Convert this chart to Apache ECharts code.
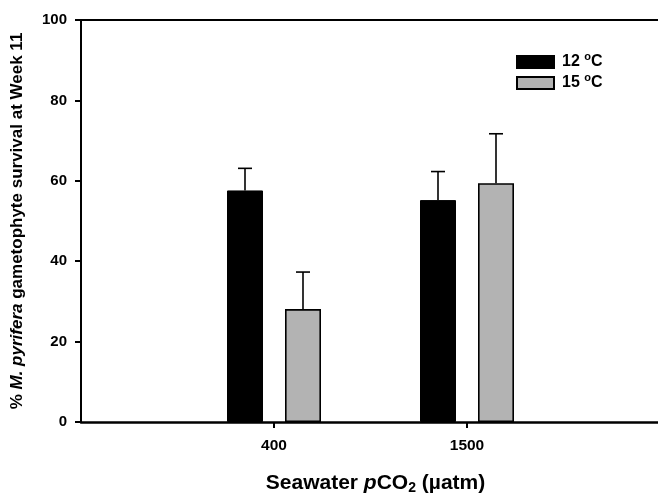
<!DOCTYPE html>
<html>
<head>
<meta charset="utf-8">
<script src="https://cdn.jsdelivr.net/npm/echarts@6/dist/echarts.min.js"></script>
<style>
  html,body{margin:0;padding:0;background:#fff;}
  #chart{width:658px;height:493px;}
</style>
</head>
<body>
<div id="chart"></div>
<script>
/* data */
const categories = ["400", "1500"];
const means12 = [57.6, 55.2];
const err12   = [5.5, 7.1];
const means15 = [28.1, 59.4];
const err15   = [9.2, 12.3];
const yTicks  = [0, 20, 40, 60, 80, 100];

const FONT = "Liberation Sans, Arial, sans-serif";
const BAR_W = 36, BAR_GAP = 22;
const OFF = (BAR_W + BAR_GAP) / 2;

// padded axis so the two groups sit where they sit in the original
const axisCats = ["", ...categories, ""];

const chart = echarts.init(document.getElementById("chart"), null, {renderer: "canvas"});

function errSeries(means, errs, dir){
	return {
		type: "custom",
		xAxisIndex: 0,
		z: 5,
		silent: true,
		data: means.map((v, i) => [i + 1, v, v + errs[i]]),
		renderItem(params, api){
			const base = api.coord([api.value(0), api.value(1)]);
			const top = api.coord([api.value(0), api.value(2)]);
			const x = base[0] + dir * OFF;
			return {
				type: "group",
				children: [
					{type: "line", shape: {x1: x, y1: base[1], x2: x, y2: top[1]}, style: {stroke: "#000", lineWidth: 1.6}},
					{type: "line", shape: {x1: x - 7, y1: top[1], x2: x + 7, y2: top[1]}, style: {stroke: "#000", lineWidth: 1.6}}
				]
			};
		}
	};
}

const option = {
	animation: false,
	backgroundColor: "#fff",
	textStyle: {fontFamily: FONT},
	grid: {left: 81, right: -2, top: 20, bottom: 71, outerBoundsMode: "none", containLabel: false},
	legend: {
		orient: "vertical",
		left: 511,
		top: 46,
		itemWidth: 37,
		itemHeight: 12,
		itemGap: 2,
		icon: "rect",
		data: ["12 °C", "15 °C"],
		formatter: n => `{t|${n.split(" ")[0]} }{s|o}{t|C}`,
		textStyle: {
			fontFamily: FONT,
			padding: [0, 0, 0, 3],
			rich: {
				t: {fontSize: 16, fontWeight: "bold", color: "#000", fontFamily: FONT, lineHeight: 22},
				s: {fontSize: 11, fontWeight: "bold", color: "#000", fontFamily: FONT, verticalAlign: "top", lineHeight: 10}
			}
		}
	},
	xAxis: [{
		type: "category",
		data: axisCats,
		boundaryGap: false,
		axisLine: {lineStyle: {color: "#000", width: 2.5}},
		axisTick: {
			length: 6,
			lineStyle: {color: "#000", width: 2},
			interval: (i, v) => v !== ""
		},
		axisLabel: {
			interval: 0,
			margin: 16,
			color: "#000",
			fontSize: 15.5,
			fontWeight: "bold",
			fontFamily: FONT
		},
		name: "{t|Seawater }{i|p}{t|CO}{sub|2}{t| (µatm)}",
		nameLocation: "middle",
		nameGap: 50,
		nameTextStyle: {
			padding: [0, 0, 0, 10],
			rich: {
				t: {fontSize: 21, fontWeight: "bold", color: "#000", fontFamily: FONT},
				i: {fontSize: 21, fontWeight: "bold", fontStyle: "italic", color: "#000", fontFamily: FONT},
				sub: {fontSize: 14, fontWeight: "bold", color: "#000", fontFamily: FONT, verticalAlign: "bottom", padding: [9, 0, 0, 0]}
			}
		},
		splitLine: {show: false}
	}, {
		type: "category",
		position: "top",
		data: axisCats,
		boundaryGap: false,
		axisLine: {lineStyle: {color: "#000", width: 2}},
		axisTick: {show: false},
		axisLabel: {show: false},
		splitLine: {show: false}
	}],
	yAxis: {
		type: "value",
		min: yTicks[0],
		max: yTicks[yTicks.length - 1],
		interval: yTicks[1] - yTicks[0],
		axisLine: {show: true, lineStyle: {color: "#000", width: 2}},
		axisTick: {show: true, length: 6, lineStyle: {color: "#000", width: 2}},
		axisLabel: {margin: 14, color: "#000", fontSize: 15, fontWeight: "bold", fontFamily: FONT},
		splitLine: {show: false},
		name: "{t|% }{i|M. pyrifera}{t| gametophyte survival at Week 11}",
		nameLocation: "middle",
		nameGap: 55,
		nameRotate: 90,
		nameTextStyle: {
			rich: {
				t: {fontSize: 17, fontWeight: "bold", color: "#000", fontFamily: FONT},
				i: {fontSize: 17, fontWeight: "bold", fontStyle: "italic", color: "#000", fontFamily: FONT}
			}
		}
	},
	series: [{
		name: "12 °C",
		type: "bar",
		xAxisIndex: 0,
		barWidth: BAR_W,
		barGap: (BAR_GAP / BAR_W * 100) + "%",
		itemStyle: {color: "#000", borderColor: "#000", borderWidth: 1},
		data: means12.map((v, i) => [i + 1, v])
	}, {
		name: "15 °C",
		type: "bar",
		xAxisIndex: 0,
		barWidth: BAR_W,
		barGap: (BAR_GAP / BAR_W * 100) + "%",
		itemStyle: {color: "#b3b3b3", borderColor: "#000", borderWidth: 1.6},
		data: means15.map((v, i) => [i + 1, v])
	},
	errSeries(means12, err12, -1),
	errSeries(means15, err15, 1)
	]
};

chart.setOption(option);
</script>
</body>
</html>
